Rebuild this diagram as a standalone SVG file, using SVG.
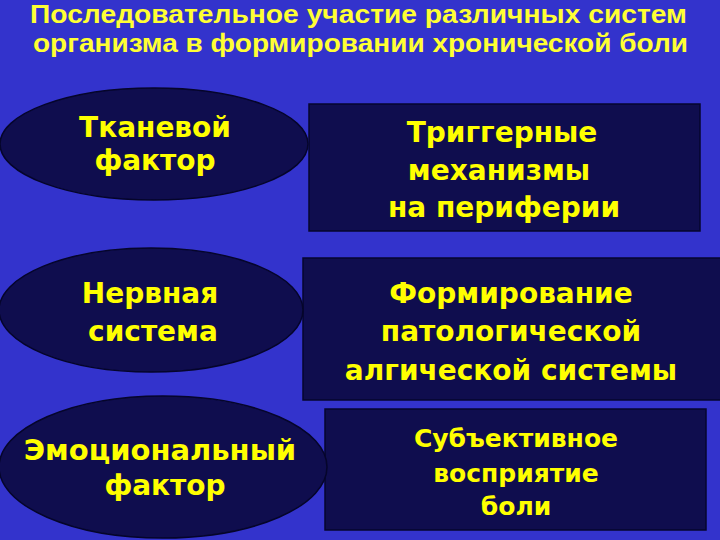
<svg xmlns="http://www.w3.org/2000/svg" width="720" height="540" viewBox="0 0 720 540">
<style>
.bg{fill:#3333CC}
.ell{fill:#0F0D4E;stroke:#05052A;stroke-width:1.5}
.box{fill:#0F0D4E;stroke:#06062E;stroke-width:1.5}
.title{font-family:"Liberation Sans",Arial,sans-serif;font-weight:bold;font-size:25px;fill:#FFFF33;text-anchor:middle}
.t{font-family:"DejaVu Sans",Verdana,sans-serif;font-weight:bold;font-size:28px;fill:#FFFF00;text-anchor:middle}
.s{font-family:"DejaVu Sans",Verdana,sans-serif;font-weight:bold;font-size:25px;fill:#FFFF00;text-anchor:middle}
</style>
<rect class="bg" x="0" y="0" width="720" height="540"/>
<g id="title">
<text class="title" x="358.5" y="23" textLength="657" lengthAdjust="spacingAndGlyphs">Последовательное участие различных систем</text>
<text class="title" x="360.5" y="52" textLength="655" lengthAdjust="spacingAndGlyphs">организма в формировании хронической боли</text>
</g>
<g id="connectors"></g>
<g id="box1">
<rect class="box" x="309" y="104" width="391" height="127"/>
<text class="t" x="502" y="142">Триггерные</text>
<text class="t" x="499" y="180">механизмы</text>
<text class="t" x="504" y="217">на периферии</text>
</g>
<g id="box2">
<rect class="box" x="303" y="258" width="420" height="142"/>
<text class="t" x="511" y="303">Формирование</text>
<text class="t" x="511" y="341">патологической</text>
<text class="t" x="511" y="380">алгической системы</text>
</g>
<g id="box3">
<rect class="box" x="325" y="409" width="381" height="121"/>
<text class="s" x="516" y="447">Субъективное</text>
<text class="s" x="516" y="482">восприятие</text>
<text class="s" x="516" y="515">боли</text>
</g>
<g id="ell1">
<ellipse class="ell" cx="154" cy="144" rx="154" ry="56"/>
<text class="t" x="155" y="137">Тканевой</text>
<text class="t" x="155" y="170">фактор</text>
</g>
<g id="ell2">
<ellipse class="ell" cx="151" cy="310" rx="152" ry="62"/>
<text class="t" x="150" y="303">Нервная</text>
<text class="t" x="153" y="341">система</text>
</g>
<g id="ell3">
<ellipse class="ell" cx="163" cy="467" rx="164" ry="71"/>
<text class="t" x="160" y="460" style="font-size:29px">Эмоциональный</text>
<text class="t" x="165" y="495">фактор</text>
</g>
</svg>
